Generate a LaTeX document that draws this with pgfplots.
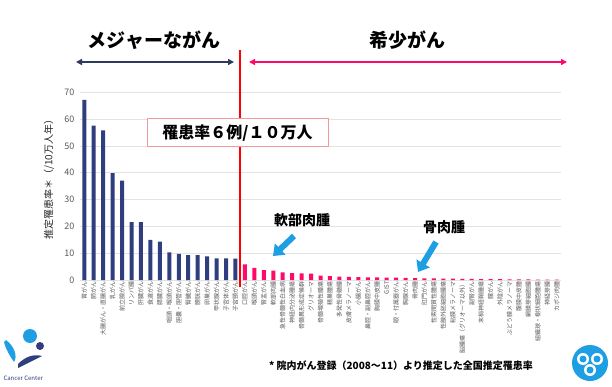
\documentclass[border=0pt]{standalone}
\usepackage{fontspec}
\setmainfont{Noto Sans CJK JP}
\usepackage{pgfplots}
\pgfplotsset{compat=1.18}
\usetikzlibrary{arrows.meta}
\definecolor{navy}{HTML}{2F3E7E}
\definecolor{rpink}{HTML}{FF0A6A}
\definecolor{arrnavy}{HTML}{2E3A5C}
\definecolor{skyb}{HTML}{1E9FE3}
\definecolor{boxred}{HTML}{F29A9A}
\definecolor{tickgray}{HTML}{595959}
\begin{document}
\begin{tikzpicture}[x=1pt,y=1pt]
\useasboundingbox (0pt,0pt) rectangle (612pt,386pt);
\begin{axis}[
  at={(84.25pt,106pt)}, anchor=origin,
  scale only axis, width=481pt, height=187.7pt,
  xmin=-0.45, xmax=50.45, ymin=0, ymax=70,
  ytick={0,10,...,70},
  ymajorgrids, grid style={gray!22, line width=0.6pt},
  axis line style={draw=none},
  major tick length=0pt,
  ybar, bar width=4pt, bar shift=0pt,
  /pgf/number format/assume math mode=true,
  yticklabel style={font=\fontsize{9}{9}\selectfont, text=tickgray, xshift=-2pt},
  xtick={0,...,50},
  xticklabels={胃がん,肺がん,大腸がん・直腸がん,乳がん,前立腺がん,リンパ腫,肝臓がん,食道がん,膵臓がん,咽頭・喉頭がん,胆嚢・胆管がん,腎臓がん,膀胱がん,卵巣がん,甲状腺がん,子宮体がん,子宮頸がん,
  口腔がん,喉頭がん,腎盂がん,軟部肉腫,急性骨髄性白血病,神経内分泌腫瘍,骨髄異形成症候群,グリオーマ,骨髄増殖性腫瘍,精巣腫瘍,多発性骨髄腫,皮膚メラノーマ,小腸がん,鼻腔・副鼻腔がん,胸膜中皮腫,GIST,眼・付属器がん,胸腺がん,骨肉腫,肛門がん,性索間質性腫瘍,性腺外胚細胞腫瘍,粘膜メラノーマ,脳腫瘍（グリオーマ以外）,副腎がん,末梢神経鞘腫瘍,膣がん,外陰がん,ぶどう膜メラノーマ,腹膜中皮腫,網膜芽細胞腫,組織球・樹状細胞腫瘍,神経芽腫,カポジ肉腫},
  xticklabel style={font=\fontsize{6}{6.5}\selectfont, text=tickgray, rotate=90, anchor=east, inner sep=1pt},
  clip=false,
]
\addplot[fill=navy, draw=none] coordinates {
(0,67.2) (1,57.6) (2,55.8) (3,39.9) (4,37.1) (5,21.6) (6,21.6) (7,15.0) (8,14.3)
(9,10.3) (10,9.7) (11,9.3) (12,9.3) (13,8.8) (14,8.1) (15,8.1) (16,8.0)};
\addplot[fill=rpink, draw=none] coordinates {
(17,5.8) (18,4.5) (19,3.7) (20,3.5) (21,2.8) (22,2.6) (23,2.5) (24,2.4)
(25,1.6) (26,1.4) (27,1.3) (28,1.2) (29,1.1) (30,1.0) (31,1.0) (32,0.9)
(33,0.9) (34,0.8) (35,0.7) (36,0.6) (37,0.6) (38,0.5) (39,0.5) (40,0.4)
(41,0.4) (42,0.3) (43,0.3) (44,0.3) (45,0.2) (46,0.2) (47,0.2) (48,0.1)
(49,0.1) (50,0.1)};
\end{axis}
% y label
\node[rotate=90, font=\fontsize{10}{10}\selectfont, text=black!85] at (49pt,209pt) {推定罹患率＊（/10万人年）};
% red divider
\draw[red, line width=1.3pt] (240pt,336pt) -- (240pt,99pt);
% header
\node[font=\fontsize{19}{19}\selectfont\bfseries] at (154pt,346pt) {メジャーながん};
\node[font=\fontsize{19}{19}\selectfont\bfseries] at (407pt,346pt) {希少がん};
\draw[arrnavy, line width=1.6pt, {Triangle[width=6pt,length=6pt]}-{Triangle[width=6pt,length=6pt]}] (76pt,324pt) -- (234pt,324pt);
\draw[rpink, line width=1.6pt, {Triangle[width=6pt,length=6pt]}-{Triangle[width=6pt,length=6pt]}] (249pt,324pt) -- (567pt,324pt);
% box
\node[draw=boxred, fill=white, line width=1pt, minimum width=181pt, minimum height=28pt, font=\fontsize{16}{16}\selectfont\bfseries] at (237.5pt,253pt) {罹患率６例/１０万人};
% annotations
\node[font=\fontsize{14}{14}\selectfont\bfseries] at (302pt,166pt) {軟部肉腫};
\node[font=\fontsize{14}{14}\selectfont\bfseries] at (444pt,159pt) {骨肉腫};
\draw[skyb, line width=6pt, -{Triangle[width=15pt,length=10pt]}] (294pt,150pt) -- (273pt,130pt);
\draw[skyb, line width=6pt, -{Triangle[width=15pt,length=10pt]}] (436pt,144pt) -- (418pt,114pt);
% footnote
\node[font=\fontsize{10}{10}\selectfont\bfseries] at (401pt,20pt) {* 院内がん登録（2008～11）より推定した全国推定罹患率};
% logos
\fill[skyb] (6pt,46pt) .. controls (14pt,40pt) and (18pt,30pt) .. (14pt,24pt) .. controls (10pt,30pt) and (6pt,36pt) .. (4pt,44pt) -- cycle;
\fill[navy] (18pt,22pt) .. controls (26pt,30pt) and (34pt,32pt) .. (42pt,30pt) .. controls (34pt,26pt) and (26pt,22pt) .. (18pt,18pt) -- cycle;
\fill[skyb] (30pt,50pt) circle (7pt);
\fill[navy] (40pt,40pt) circle (4pt);
\node[font=\fontsize{6}{6}\selectfont, text=navy, anchor=west] at (0pt,8pt) {Cancer Center};
\fill[skyb] (590pt,23pt) circle (18pt);
\fill[white] (583pt,27pt) circle (6pt);
\fill[white] (597pt,27pt) circle (6pt);
\fill[white] (590pt,16pt) circle (6pt);
\fill[skyb] (583pt,27pt) circle (3.5pt);
\fill[skyb] (597pt,27pt) circle (3.5pt);
\fill[skyb] (590pt,16pt) circle (3.5pt);
\end{tikzpicture}
\end{document}
